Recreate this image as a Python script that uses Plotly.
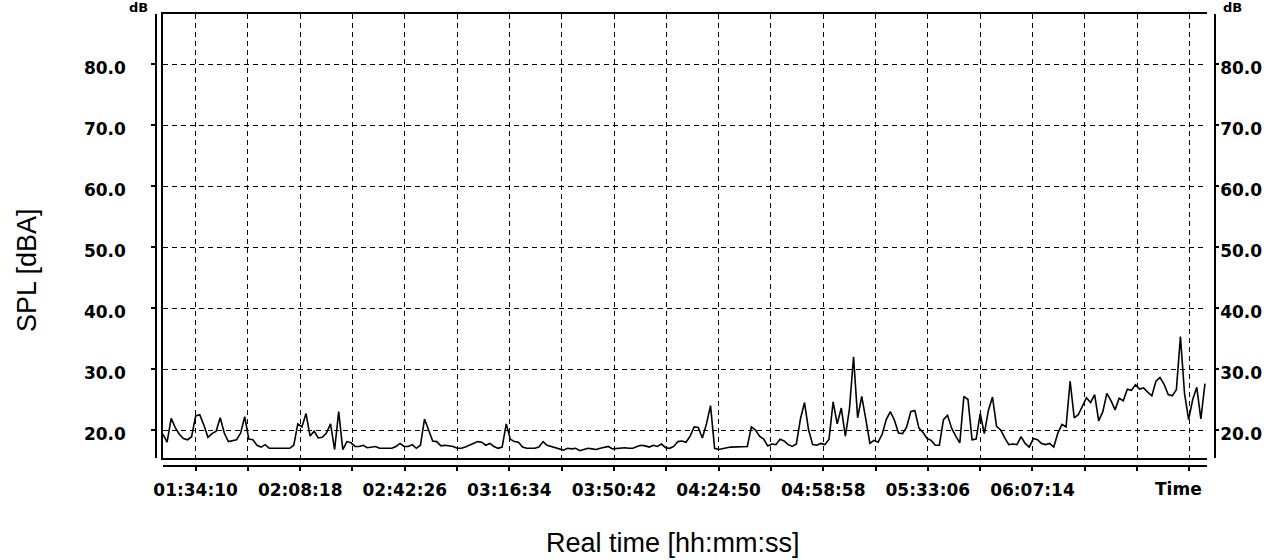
import plotly.graph_objects as go

# ---------------- data ----------------
start_time = "01:23:32"      # first sample (hh:mm:ss)
step_s = 80                  # sampling step in seconds

spl_dba = [
    19.3, 18.0, 21.9, 20.4, 19.3, 18.6, 18.4, 18.9, 22.3, 22.5,
    20.8, 18.8, 19.4, 19.8, 22.0, 19.5, 18.1, 18.3, 18.4, 19.5,
    22.2, 18.5, 18.4, 17.5, 17.2, 17.6, 17.0, 17.0, 17.0, 17.0,
    17.0, 17.0, 17.5, 21.0, 20.5, 22.7, 19.0, 19.8, 18.7, 18.8,
    19.5, 21.0, 16.8, 23.0, 16.8, 18.1, 17.9, 17.3, 17.3, 17.5,
    17.1, 17.2, 17.3, 17.0, 17.0, 17.0, 17.0, 17.3, 17.8, 17.3,
    17.3, 17.6, 17.0, 17.5, 21.8, 20.0, 18.2, 18.1, 17.4, 17.5,
    17.4, 17.3, 17.0, 17.0, 17.2, 17.5, 17.8, 18.1, 18.0, 17.5,
    17.8, 17.3, 17.0, 17.2, 21.0, 18.5, 18.1, 18.0, 17.2, 17.0,
    17.0, 17.0, 17.2, 18.1, 17.5, 17.3, 17.2, 17.0, 16.7, 17.0,
    16.9, 17.0, 16.6, 16.8, 17.0, 16.9, 16.8, 17.0, 17.1, 17.3,
    16.9, 17.0, 17.0, 17.1, 17.0, 17.0, 17.3, 17.5, 17.4, 17.2,
    17.5, 17.3, 17.7, 17.1, 17.0, 17.3, 18.1, 18.2, 18.0, 19.0,
    20.5, 20.4, 18.7, 21.0, 24.0, 17.0, 16.8, 17.0, 17.1, 17.2,
    17.2, 17.3, 17.2, 17.3, 20.5, 20.0, 19.0, 18.5, 17.4, 17.7,
    17.6, 18.5, 18.2, 17.6, 17.3, 17.7, 21.8, 24.5, 20.0, 17.6,
    17.5, 17.8, 17.6, 18.5, 24.6, 21.0, 23.6, 19.0, 23.5, 32.0,
    22.0, 25.5, 21.8, 17.8, 18.3, 18.0, 19.3, 21.7, 23.0, 21.6,
    19.5, 19.4, 20.5, 23.0, 23.2, 20.3, 19.6, 18.6, 18.3, 17.5,
    17.5, 21.7, 22.4, 20.3, 19.0, 17.9, 25.5, 25.0, 18.4, 18.5,
    22.7, 19.4, 23.2, 25.4, 20.6, 20.0, 18.7, 17.6, 17.7, 17.6,
    18.9, 17.8, 17.2, 18.6, 18.4, 17.8, 17.6, 17.8, 17.2, 19.5,
    20.9, 20.5, 28.0, 22.0, 22.5, 24.0, 25.3, 24.5, 25.8, 21.5,
    23.0, 26.0, 24.8, 23.3, 25.2, 24.8, 26.7, 26.5, 27.4, 26.7,
    26.9, 26.2, 25.6, 28.0, 28.6, 27.5, 25.8, 25.6, 26.6, 35.3,
    26.0, 21.7, 25.0, 27.0, 21.8, 27.6,
]

time_tick_labels = ["01:34:10", "02:08:18", "02:42:26", "03:16:34", "03:50:42",
                    "04:24:50", "04:58:58", "05:33:06", "06:07:14"]
y_tick_values = [20, 30, 40, 50, 60, 70, 80]
y_tick_labels = ["20.0", "30.0", "40.0", "50.0", "60.0", "70.0", "80.0"]

x_title = "Real time [hh:mm:ss]"
y_title = "SPL [dBA]"
x_end_label = "Time"
unit_label = "dB"


def to_seconds(hms):
    h, m, s = (int(v) for v in hms.split(":"))
    return h * 3600 + m * 60 + s


t0 = to_seconds(start_time)
times = [t0 + i * step_s for i in range(len(spl_dba))]

label_secs = [to_seconds(t) for t in time_tick_labels]
grid_step = (label_secs[1] - label_secs[0]) / 2
n_grid = 20
grid_secs = [label_secs[0] + k * grid_step for k in range(n_grid)]
grid_text = [time_tick_labels[k // 2] if (k % 2 == 0 and k // 2 < len(time_tick_labels)) else ""
             for k in range(n_grid)]

x_range = [5012, 25452]
y_range = [15.41, 88.2]

W, H = 1272, 560
ML, MR, MT, MB = 163, 65, 14, 94
PW, PH = W - ML - MR, H - MT - MB

tick_font = dict(family="DejaVu Sans", size=17, color="black", weight="bold")
title_font = dict(family="Liberation Sans, Arial", size=27, color="black")
dash = "5px,4px"

fig = go.Figure()
fig.add_trace(go.Scatter(
    x=times, y=spl_dba, mode="lines",
    line=dict(color="black", width=1.6),
    xaxis="x", yaxis="y", showlegend=False, hoverinfo="skip",
))
# empty traces so that the extra (overlaying) axes get drawn
for xa, ya in (("x2", "y"), ("x", "y2"), ("x", "y3")):
    fig.add_trace(go.Scatter(x=[], y=[], xaxis=xa, yaxis=ya, mode="lines",
                             showlegend=False, hoverinfo="skip"))

y_dom = [8 / PH, 1]

fig.update_layout(
    width=W, height=H,
    margin=dict(l=ML, r=MR, t=MT, b=MB, pad=0, autoexpand=False),
    paper_bgcolor="white", plot_bgcolor="white",
    showlegend=False,
    xaxis=dict(
        domain=[0, 1], range=x_range, anchor="y", automargin=False,
        showline=True, mirror=True, linecolor="black", linewidth=1.5,
        tickmode="array", tickvals=grid_secs, showticklabels=False, ticks="",
        showgrid=True, gridcolor="black", gridwidth=1, griddash=dash,
        zeroline=False,
    ),
    xaxis2=dict(
        overlaying="x", anchor="free", position=0, range=x_range, automargin=False,
        showline=True, linecolor="black", linewidth=1.5,
        tickmode="array", tickvals=grid_secs, ticktext=grid_text,
        ticks="outside", ticklen=4, tickwidth=1.5, tickcolor="black",
        tickfont=tick_font, ticklabelstandoff=5,
        showgrid=False, zeroline=False,
    ),
    yaxis=dict(
        domain=y_dom, range=y_range, anchor="free", position=0, shift=-7,
        automargin=False,
        showline=True, linecolor="black", linewidth=1.5,
        tickmode="array", tickvals=y_tick_values, ticktext=y_tick_labels,
        ticks="outside", ticklen=4, tickwidth=1.5, tickcolor="black",
        tickfont=tick_font, ticklabelstandoff=22, ticklabelshift=4,
        showgrid=True, gridcolor="black", gridwidth=1, griddash=dash,
        zeroline=False,
    ),
    yaxis2=dict(
        overlaying="y", side="right", anchor="free", position=1, shift=8,
        automargin=False,
        range=y_range, showline=True, linecolor="black", linewidth=1.5,
        tickmode="array", tickvals=y_tick_values, ticktext=y_tick_labels,
        ticks="outside", ticklen=3, tickwidth=1.5, tickcolor="black",
        tickfont=tick_font, ticklabelshift=4, ticklabelstandoff=-2,
        showgrid=False, zeroline=False,
    ),
    yaxis3=dict(
        overlaying="y", side="left", anchor="x", range=y_range, automargin=False,
        showline=True, linecolor="black", linewidth=1.5,
        showticklabels=False, ticks="", showgrid=False, zeroline=False,
    ),
)


def px_to_paper_x(px):
    return (px - ML) / PW


def px_to_paper_y(py):
    return (H - MB - py) / PH


unit_font = dict(family="DejaVu Sans", size=13, color="black", weight="bold")
annotations = [
    dict(text=x_title, x=px_to_paper_x(673), y=px_to_paper_y(543),
         xref="paper", yref="paper", xanchor="center", yanchor="middle",
         showarrow=False, font=title_font),
    dict(text=y_title, x=px_to_paper_x(27), y=px_to_paper_y(270),
         xref="paper", yref="paper", xanchor="center", yanchor="middle",
         textangle=-90, showarrow=False, font=title_font),
    dict(text=x_end_label, x=px_to_paper_x(1178), y=px_to_paper_y(489),
         xref="paper", yref="paper", xanchor="center", yanchor="middle",
         showarrow=False, font=tick_font),
    dict(text=unit_label, x=px_to_paper_x(138), y=px_to_paper_y(7),
         xref="paper", yref="paper", xanchor="center", yanchor="middle",
         showarrow=False, font=unit_font),
    dict(text=unit_label, x=px_to_paper_x(1232), y=px_to_paper_y(7),
         xref="paper", yref="paper", xanchor="center", yanchor="middle",
         showarrow=False, font=unit_font),
]
fig.update_layout(annotations=annotations)

fig.write_html("out.html", config={"displayModeBar": False},
               post_script="document.body.style.margin='0px';document.body.style.padding='0px';")
